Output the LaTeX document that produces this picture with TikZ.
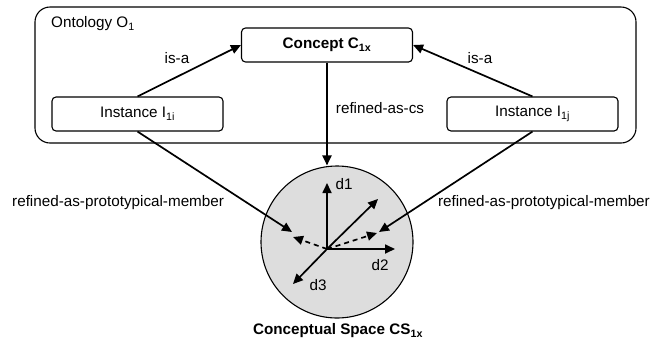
\documentclass[tikz,border=0pt]{standalone}
\usepackage{fontspec}
\setmainfont{Liberation Sans}
\usetikzlibrary{arrows.meta}
\begin{document}
\begin{tikzpicture}[x=1bp,y=-1bp,
  every node/.style={font=\fontsize{15.3}{18}\selectfont, inner sep=0pt},
  box/.style={draw, line width=1.1bp, rounded corners=4bp, minimum width=171bp, minimum height=34bp},
  arr/.style={line width=1.7bp, -{Triangle[length=10bp,width=9bp]}},
  darr/.style={arr, dash pattern=on 5bp off 4bp}]
\useasboundingbox (0,0) rectangle (651,340);
\draw[line width=1.1bp, rounded corners=15bp] (35,7) rectangle (636,143);
\node[anchor=west] (ont) at (51,24) {Ontology O\textsubscript{1}};
\node[box] (C) at (327,45) {\bfseries Concept C\textsubscript{1x}};
\node[box] (Ii) at (137.5,114) {Instance I\textsubscript{1i}};
\node[box] (Ij) at (532.5,114) {Instance I\textsubscript{1j}};
\node[circle, draw, line width=1.1bp, fill={rgb,255:red,221;green,221;blue,221}, minimum size=152bp] (cs) at (337,242) {};
\node (cslbl) at (338,331) {\bfseries Conceptual Space CS\textsubscript{1x}};
\coordinate (O) at (327,249);
\coordinate (d1) at (327,183);
\coordinate (d2) at (395,249);
\coordinate (d3) at (293,284);
\coordinate (ne) at (378,199);
\coordinate (pl) at (293,237);
\coordinate (pr) at (377,233);
\coordinate (tl) at (292,232);
\coordinate (tr) at (379,232);
\draw[arr] (Ii.north) -- (C.west);
\draw[arr] (Ij.north) -- (C.east);
\draw[arr, line width=2bp] (C.south) -- (C.south |- cs.north);
\draw[arr] (Ii.south) -- (tl);
\draw[arr] (Ij.south) -- (tr);
\draw[arr] (O) -- (d1);
\draw[arr] (O) -- (d2);
\draw[arr] (O) -- (d3);
\draw[arr] (O) -- (ne);
\draw[darr] (O) -- (pl);
\draw[darr] (O) -- (pr);
\node (isal) at (177,58) {is-a};
\node (isar) at (480,58) {is-a};
\node (rcs) at (380,108) {refined-as-cs};
\node[anchor=west] (rpl) at (12,203) {refined-as-prototypical-member};
\node[anchor=east] (rpr) at (650,203) {refined-as-prototypical-member};
\node (l1) at (344,184) {d1};
\node (l2) at (380,265) {d2};
\node (l3) at (318,285) {d3};
\end{tikzpicture}
\end{document}
